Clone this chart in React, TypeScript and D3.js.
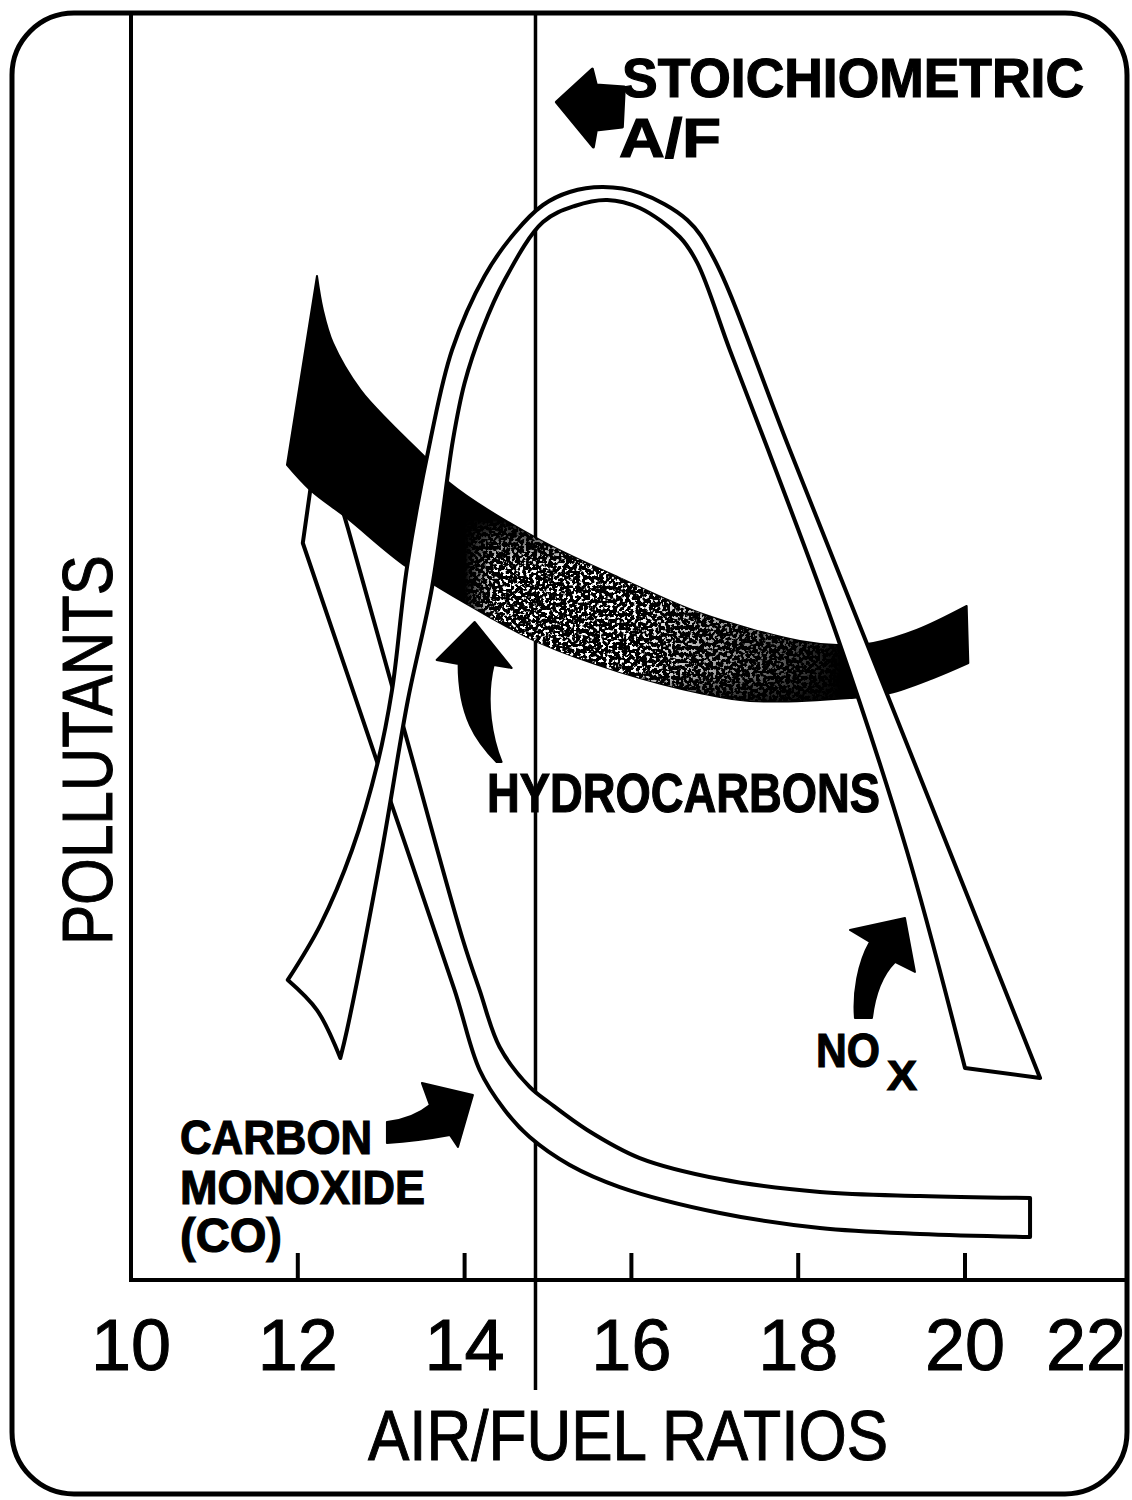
import React from "react";
import * as d3 from "d3";

type P = [number, number];

const W = 1132;
const H = 1500;

// x axis: air/fuel ratio ; y axis: relative pollutant level (0..100, no scale printed)
const xTicks = [12, 14, 16, 18, 20];
const xTickLabels = ["10", "12", "14", "16", "18", "20", "22"];
const xTickLabelValues = [10, 12, 14, 16, 18, 20, 21.45];
const stoichAF = 14.85;

// NOx band (outlined): outer edge from rich tip over the peak to the lean end
const noxOuter: P[] = [
  [11.88, 23.72], [12.27, 28.06], [12.65, 33.99], [12.96, 40.95], [13.13, 46.64],
  [13.31, 56.36], [13.59, 66.4], [13.85, 73.52], [14.24, 79.37], [14.6, 82.77],
  [14.94, 84.98], [15.26, 86.01], [15.66, 86.4], [16.1, 85.93], [16.67, 83.79],
  [16.98, 80.87], [17.9, 65.61], [19.81, 33.99], [20.9, 15.97],
];
const noxInner: P[] = [
  [12.51, 17.55], [12.59, 19.76], [13.01, 33.99], [13.32, 45.85], [13.61, 54.78],
  [13.86, 66.4], [14.0, 70.91], [14.21, 75.1], [14.48, 79.05], [14.94, 83.64],
  [15.32, 84.9], [15.71, 85.38], [16.1, 84.74], [16.58, 82.45], [16.79, 80.4],
  [17.18, 73.52], [17.64, 65.61], [18.47, 50.83], [19.3, 33.99], [20.0, 16.76],
];
const noxTip: P[] = [[12.51, 17.55], [12.23, 21.34], [11.88, 23.72]];

// Carbon monoxide band (outlined)
const coLower: P[] = [
  [12.17, 63.4], [12.06, 58.26], [12.97, 40.59], [13.88, 22.92], [14.18, 16.6],
  [14.48, 13.44], [14.78, 11.3], [15.26, 9.09], [15.86, 7.35], [17.06, 5.3],
  [18.26, 4.11], [19.46, 3.64], [20.78, 3.4],
];
const coUpper: P[] = [
  [12.48, 62.06], [12.6, 59.45], [13.29, 43.16], [13.98, 26.88], [14.18, 22.92],
  [14.42, 18.42], [14.78, 15.26], [15.02, 13.99], [15.47, 11.86], [16.1, 9.64],
  [17.06, 7.98], [18.26, 6.96], [19.46, 6.64], [20.78, 6.48],
];

// Hydrocarbons band (solid)
const hcUpper: P[] = [
  [12.23, 79.37], [12.3, 76.68], [12.42, 74.07], [12.75, 70.36], [13.11, 67.75],
  [13.5, 65.22], [13.82, 63.0], [14.9, 58.5], [15.86, 55.49], [16.82, 52.73],
  [18.02, 50.51], [18.47, 50.2], [18.9, 50.36], [19.42, 51.38], [20.02, 53.28],
];
const hcLower: P[] = [
  [11.87, 64.43], [12.15, 62.45], [12.59, 60.24], [13.31, 56.36], [14.3, 52.41],
  [14.9, 50.36], [15.86, 48.06], [16.82, 46.4], [17.42, 45.77], [18.62, 46.01],
  [19.1, 46.4], [19.62, 47.59], [20.04, 48.77],
];

// annotation anchors (data space)
const stoichArrowTip: P = [15.1, 93.12];
const hcArrowTip: P = [14.12, 52.02];
const noxArrowTip: P = [19.28, 28.62];
const coArrowTip: P = [14.1, 14.62];

const x = d3.scaleLinear().domain([10, 22]).range([131, 1131.8]);
const y = d3.scaleLinear().domain([0, 100]).range([1280, 15]);

const lineC = d3
  .line<P>()
  .x((d) => x(d[0]))
  .y((d) => y(d[1]))
  .curve(d3.curveCatmullRom.alpha(0.5));
const lineL = d3
  .line<P>()
  .x((d) => x(d[0]))
  .y((d) => y(d[1]));

function join(segs: (string | null)[]) {
  return (
    segs
      .map((s, i) => (i === 0 ? (s as string) : (s as string).replace(/^M/, "L")))
      .join("") + "Z"
  );
}

const last = <T,>(a: T[]) => a[a.length - 1];

const noxPath = join([
  lineC(noxOuter),
  lineL([last(noxOuter), last(noxInner)]),
  lineC(noxInner.slice().reverse()),
  lineC(noxTip),
]);
const coPath = join([
  lineL(coLower.slice(0, 2)),
  lineC(coLower.slice(1)),
  lineL([last(coLower), last(coUpper)]),
  lineC(coUpper.slice().reverse()),
]);
const hcPath = join([
  lineC(hcUpper),
  lineL([last(hcUpper), last(hcLower)]),
  lineC(hcLower.slice().reverse()),
]);

const BOLD = "'Liberation Sans', Arial, Helvetica, sans-serif";
const LETTER = "'Liberation Sans', Arial, Helvetica, sans-serif";

export default function App() {
  const axisY = y(0);
  const axisX = x(10);
  const top = y(100);
  const sx = x(stoichAF);
  const [sTx, sTy] = [x(stoichArrowTip[0]), y(stoichArrowTip[1])];
  const [hTx, hTy] = [x(hcArrowTip[0]), y(hcArrowTip[1])];
  const [nTx, nTy] = [x(noxArrowTip[0]), y(noxArrowTip[1])];
  const [cTx, cTy] = [x(coArrowTip[0]), y(coArrowTip[1])];

  return (
    <svg
      width={W}
      height={H}
      viewBox={`0 0 ${W} ${H}`}
      style={{ position: "absolute", left: 0, top: 0, background: "#fff" }}
    >
      <defs>
        <clipPath id="hcClip">
          <path d={hcPath} />
        </clipPath>
        <filter id="speck" filterUnits="userSpaceOnUse" x={430} y={440} width={480} height={300}>
          <feTurbulence type="fractalNoise" baseFrequency="0.3" numOctaves={2} seed={11} result="n" />
          <feColorMatrix
            in="n"
            type="matrix"
            values="0 0 0 0 1  0 0 0 0 1  0 0 0 0 1  12 0 0 0 -6.4"
          />
        </filter>
        <linearGradient id="speckGrad" gradientUnits="userSpaceOnUse" x1={465} y1={0} x2={840} y2={0}>
          <stop offset="0" stopColor="#000" />
          <stop offset="0.08" stopColor="#fff" />
          <stop offset="0.45" stopColor="#fff" />
          <stop offset="0.65" stopColor="#aaa" />
          <stop offset="0.85" stopColor="#555" />
          <stop offset="1" stopColor="#000" />
        </linearGradient>
        <linearGradient id="speckGradV" gradientUnits="userSpaceOnUse" x1={0} y1={520} x2={0} y2={710}>
          <stop offset="0" stopColor="#000" />
          <stop offset="0.25" stopColor="#fff" />
          <stop offset="0.8" stopColor="#fff" />
          <stop offset="1" stopColor="#000" />
        </linearGradient>
        <mask id="speckMaskV" maskUnits="userSpaceOnUse" x={430} y={440} width={480} height={300}>
          <rect x={430} y={440} width={480} height={300} fill="url(#speckGradV)" />
        </mask>
        <mask id="speckMask" maskUnits="userSpaceOnUse" x={430} y={440} width={480} height={300}>
          <rect x={430} y={440} width={480} height={300} fill="url(#speckGrad)" mask="url(#speckMaskV)" />
        </mask>
      </defs>

      {/* frame */}
      <rect x={12} y={13} width={1115} height={1481} rx={62} ry={62} fill="#fff" stroke="#000" strokeWidth={5} />

      {/* axes */}
      <line x1={axisX} y1={top} x2={axisX} y2={axisY} stroke="#000" strokeWidth={4} />
      <line x1={axisX - 2} y1={axisY} x2={1127} y2={axisY} stroke="#000" strokeWidth={4} />
      {xTicks.map((t) => (
        <line key={t} x1={x(t)} x2={x(t)} y1={axisY} y2={axisY - 27} stroke="#000" strokeWidth={4} />
      ))}
      {xTickLabels.map((lab, i) => (
        <text
          key={lab}
          x={x(xTickLabelValues[i])}
          y={axisY + 90}
          textAnchor="middle"
          fontFamily={LETTER}
          fontSize={72}
          stroke="#000"
          strokeWidth={1}
        >
          {lab}
        </text>
      ))}

      {/* stoichiometric line */}
      <line x1={sx} y1={top} x2={sx} y2={axisY + 110} stroke="#000" strokeWidth={3.5} />

      {/* pollutant bands */}
      <path d={coPath} fill="#fff" stroke="#000" strokeWidth={4} strokeLinejoin="round" />
      <path d={hcPath} fill="#000" stroke="#000" strokeWidth={2} strokeLinejoin="round" />
      <g clipPath="url(#hcClip)">
        <rect x={430} y={440} width={480} height={300} fill="#fff" filter="url(#speck)" mask="url(#speckMask)" />
      </g>
      <path d={noxPath} fill="#fff" stroke="#000" strokeWidth={4} strokeLinejoin="round" />

      {/* annotation arrows */}
      <path
        d={`M${sTx},${sTy} l36,-33 l4,16 l28,2 l-2,40 l-26,3 l-3,17 Z`}
        fill="#000"
        stroke="#000"
        strokeWidth={3}
        strokeLinejoin="round"
      />
      <path
        transform={`translate(${hTx},${hTy})`}
        d="M0,0 L37,46 L19,43 C10,80 18,118 27,140 L22,140 C2,120 -16,95 -16,42 L-38,38 Z"
        fill="#000"
        stroke="#000"
        strokeWidth={2}
        strokeLinejoin="round"
      />
      <path
        transform={`translate(${nTx},${nTy})`}
        d="M0,0 L10,54 L-10,44 C-22,56 -30,75 -33,100 L-50,100 C-52,75 -47,45 -35,24 L-55,12 Z"
        fill="#000"
        stroke="#000"
        strokeWidth={2}
        strokeLinejoin="round"
      />
      <path
        transform={`translate(${cTx},${cTy})`}
        d="M-86,27 Q-60,24 -43,10 L-51,-12 L0,0 L-15,52 L-23,40 Q-55,46 -86,48 Z"
        fill="#000"
        stroke="#000"
        strokeWidth={2}
        strokeLinejoin="round"
      />

      {/* labels */}
      <g fontFamily={BOLD} fontWeight={700} fill="#000" stroke="#000" strokeWidth={1.2}>
        <text x={622} y={97} fontSize={55} textLength={462} lengthAdjust="spacingAndGlyphs">
          STOICHIOMETRIC
        </text>
        <text x={619} y={157} fontSize={55} textLength={102} lengthAdjust="spacingAndGlyphs">
          A/F
        </text>
        <text x={487} y={812} fontSize={56} textLength={393} lengthAdjust="spacingAndGlyphs">
          HYDROCARBONS
        </text>
        <text x={816} y={1067} fontSize={48} textLength={64} lengthAdjust="spacingAndGlyphs">
          NO
        </text>
        <text x={887} y={1090} fontSize={42} textLength={30} lengthAdjust="spacingAndGlyphs">
          X
        </text>
        <text x={180} y={1154} fontSize={48} textLength={192} lengthAdjust="spacingAndGlyphs">
          CARBON
        </text>
        <text x={180} y={1204} fontSize={48} textLength={245} lengthAdjust="spacingAndGlyphs">
          MONOXIDE
        </text>
        <text x={180} y={1252} fontSize={48} textLength={102} lengthAdjust="spacingAndGlyphs">
          (CO)
        </text>
      </g>

      <text
        x={368}
        y={1460}
        fontFamily={LETTER}
        fontSize={70}
        textLength={520}
        lengthAdjust="spacingAndGlyphs"
        stroke="#000"
        strokeWidth={1}
      >
        AIR/FUEL RATIOS
      </text>
      <text
        transform="translate(112,750) rotate(-90)"
        x={0}
        y={0}
        textAnchor="middle"
        fontFamily={LETTER}
        fontSize={70}
        textLength={390}
        lengthAdjust="spacingAndGlyphs"
        stroke="#000"
        strokeWidth={1}
      >
        POLLUTANTS
      </text>
    </svg>
  );
}
